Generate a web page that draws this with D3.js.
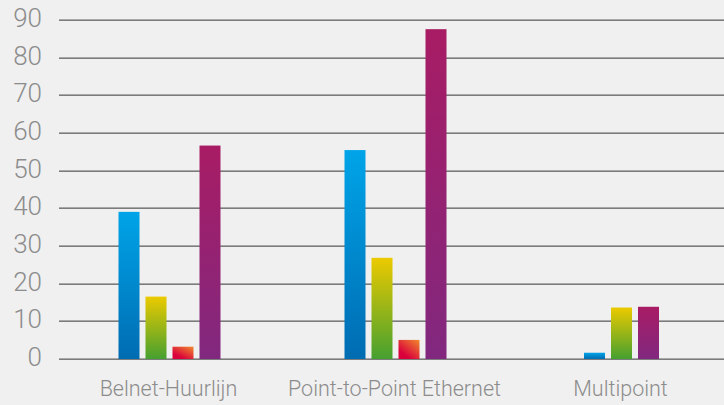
<!DOCTYPE html>
<html>
<head>
<meta charset="utf-8">
<script src="https://cdn.jsdelivr.net/npm/d3@7"></script>
<style>
  html, body { margin: 0; padding: 0; background: #f0f0f0; }
  svg { display: block; }
</style>
</head>
<body>
<div id="chart"></div>
<script>
const categories = ['Belnet-Huurlijn', 'Point-to-Point Ethernet', 'Multipoint'];
const seriesNames = ['blue', 'yellow', 'red', 'purple'];
const blueValues = [38.8, 55.2, 1.4];
const yellowValues = [16.3, 26.6, 13.4];
const redValues = [3.0, 4.8, null];
const purpleValues = [56.4, 87.3, 13.6];
const yTicks = [0, 10, 20, 30, 40, 50, 60, 70, 80, 90];

const width = 724;
const height = 405;
const font = "'Roboto', 'DejaVu Sans', sans-serif";

const svg = d3.select('#chart').append('svg')
  .attr('width', width)
  .attr('height', height);

svg.append('rect')
  .attr('width', width)
  .attr('height', height)
  .attr('fill', '#f0f0f0');

const defs = svg.append('defs');

function linGrad(id, top, bottom) {
  const g = defs.append('linearGradient')
    .attr('id', id)
    .attr('x1', 0).attr('y1', 0)
    .attr('x2', 0).attr('y2', 1);
  g.append('stop').attr('offset', '0%').attr('stop-color', top);
  g.append('stop').attr('offset', '100%').attr('stop-color', bottom);
}
linGrad('g-blue', '#00a4e8', '#006cb2');
linGrad('g-yellow', '#ecca00', '#45a030');
linGrad('g-purple', '#a81c64', '#81287f');
const rg = defs.append('linearGradient')
  .attr('id', 'g-red')
  .attr('x1', 1).attr('y1', 0)
  .attr('x2', 0.3).attr('y2', 0.8);
rg.append('stop').attr('offset', '0%').attr('stop-color', '#f08a2c');
rg.append('stop').attr('offset', '100%').attr('stop-color', '#da003c');

const valuesBySeries = [blueValues, yellowValues, redValues, purpleValues];

const y = d3.scaleLinear()
  .domain([0, 90])
  .range([358, 19]);

const x = d3.scaleBand()
  .domain(categories)
  .range([56.5, 734.5])
  .padding(0);

// gridlines
const grid = svg.append('g');
grid.selectAll('line.hi')
  .data(yTicks)
  .join('line')
  .attr('class', 'hi')
  .attr('x1', 59).attr('x2', width)
  .attr('y1', (d) => Math.round(y(d)) + 0.5)
  .attr('y2', (d) => Math.round(y(d)) + 0.5)
  .attr('stroke', '#a8a8a8')
  .attr('stroke-width', 1);
grid.selectAll('line.lo')
  .data(yTicks)
  .join('line')
  .attr('class', 'lo')
  .attr('x1', 59).attr('x2', width)
  .attr('y1', (d) => Math.round(y(d)) + 1.5)
  .attr('y2', (d) => Math.round(y(d)) + 1.5)
  .attr('stroke', '#7c7c7c')
  .attr('stroke-width', 1);

// y tick labels
svg.append('g')
  .selectAll('text')
  .data(yTicks)
  .join('text')
  .attr('x', 42)
  .attr('y', (d) => y(d) + 1)
  .attr('text-anchor', 'end')
  .attr('dominant-baseline', 'middle')
  .style('font', `300 26px ${font}`)
  .attr('fill', '#8c8c8c')
  .text((d) => d);

// bars
const barW = 21;
const step = 27;

categories.forEach((cat, i) => {
  const items = seriesNames
    .map((s, k) => ({ s, v: valuesBySeries[k][i] }))
    .filter((d) => d.v != null);
  const total = items.length * step - (step - barW);
  const cx = x(cat) + x.bandwidth() / 2;
  const start = cx - total / 2;

  svg.append('g')
    .selectAll('rect')
    .data(items)
    .join('rect')
    .attr('x', (d, j) => start + j * step)
    .attr('y', (d) => y(d.v))
    .attr('width', barW)
    .attr('height', (d) => y(0) - y(d.v) + 1)
    .attr('fill', (d) => `url(#g-${d.s})`);
});

// category labels
svg.append('g')
  .selectAll('text')
  .data(categories)
  .join('text')
  .attr('x', (d) => x(d) + x.bandwidth() / 2 - 1)
  .attr('y', 396)
  .attr('text-anchor', 'middle')
  .style('font', `300 21.5px ${font}`)
  .attr('fill', '#8c8c8c')
  .text((d) => d);
</script>
</body>
</html>
